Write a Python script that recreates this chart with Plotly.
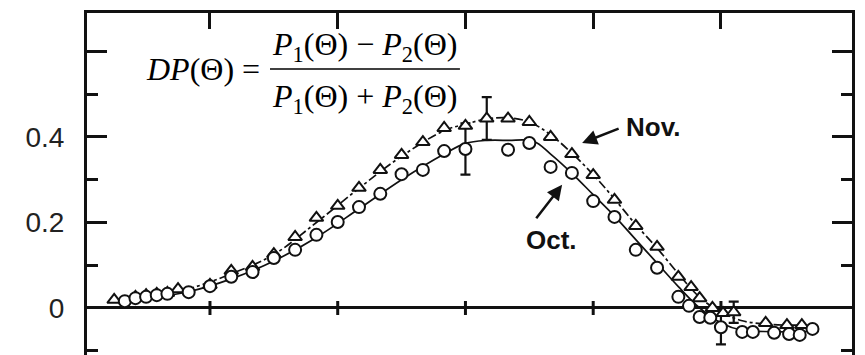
import plotly.graph_objects as go

# Scattering angle (deg) and degree of polarization, October series (circles)
oct_theta = [10, 12.5, 15, 17.5, 20, 25, 30, 35, 40, 45, 50, 55, 60, 65, 70, 75, 80, 85,
             90, 100, 105, 110, 115, 120, 125, 130, 135, 140, 142.5, 145, 147.5, 150,
             155, 157.5, 162.5, 166, 168.5, 171.5]
oct_dp = [0.016, 0.023, 0.026, 0.030, 0.033, 0.037, 0.051, 0.073, 0.084, 0.117, 0.136,
          0.171, 0.201, 0.236, 0.267, 0.313, 0.323, 0.367, 0.372, 0.370, 0.386, 0.330,
          0.316, 0.250, 0.213, 0.136, 0.094, 0.026, 0.005, -0.021, -0.023, -0.045,
          -0.056, -0.056, -0.058, -0.061, -0.063, -0.049]

# November series (triangles)
nov_theta = [7.5, 12.5, 15, 17.5, 20, 22.5, 30, 35, 40, 45, 50, 55, 60, 65, 70, 75, 80,
             85, 90, 95, 100, 105, 110, 115, 120, 125, 130, 135, 140, 143, 145, 148,
             150.5, 153, 160.5, 165.5, 169]
nov_dp = [0.019, 0.026, 0.030, 0.033, 0.035, 0.044, 0.054, 0.087, 0.096, 0.126, 0.166,
          0.211, 0.239, 0.281, 0.323, 0.358, 0.388, 0.421, 0.426, 0.443, 0.443, 0.435,
          0.400, 0.360, 0.311, 0.253, 0.192, 0.143, 0.073, 0.049, 0.023, 0.000,
          -0.012, -0.010, -0.035, -0.040, -0.040]

# Smoothed curves drawn through each series
oct_fit_theta = [7.5, 15, 25, 35, 45, 55, 65, 75, 85, 90, 95, 100, 106, 110, 115, 120,
                 125, 130, 135, 140, 145, 150, 155, 160, 165, 170]
oct_fit_dp = [0.015, 0.022, 0.038, 0.068, 0.110, 0.165, 0.232, 0.300, 0.360, 0.385,
              0.392, 0.392, 0.390, 0.360, 0.315, 0.265, 0.215, 0.160, 0.105, 0.050,
              0.000, -0.035, -0.052, -0.055, -0.056, -0.055]
nov_fit_theta = [7.5, 15, 25, 35, 45, 55, 65, 75, 85, 90, 95, 100, 105, 110, 115, 120,
                 125, 130, 135, 140, 145, 150, 155, 160, 165, 170]
nov_fit_dp = [0.018, 0.028, 0.045, 0.080, 0.125, 0.200, 0.280, 0.355, 0.415, 0.430,
              0.442, 0.445, 0.435, 0.405, 0.362, 0.312, 0.255, 0.195, 0.140, 0.080,
              0.025, -0.010, -0.030, -0.037, -0.040, -0.040]

# Points carrying error bars: angle and half-width
oct_err_theta = [90, 150]
oct_err = [0.06, 0.04]
nov_err_theta = [95, 153]
nov_err = [0.05, 0.025]

# Axis ticks
x_ticks = [30, 60, 90, 120, 150]
y_major = [0, 0.2, 0.4, 0.6]
y_major_text = ["0", "0.2", "0.4", ""]
y_minor = [-0.1, 0.1, 0.3, 0.5]

INK = "#111111"

fig = go.Figure()

# fitted curves
fig.add_trace(go.Scatter(x=oct_fit_theta, y=oct_fit_dp, mode="lines",
                         line=dict(color=INK, width=1.7, shape="spline"),
                         hoverinfo="skip", showlegend=False))
fig.add_trace(go.Scatter(x=nov_fit_theta, y=nov_fit_dp, mode="lines",
                         line=dict(color=INK, width=1.7, dash="dashdot", shape="spline"),
                         hoverinfo="skip", showlegend=False))

# small cross ticks on the zero line
fig.add_trace(go.Scatter(x=x_ticks, y=[0] * len(x_ticks), mode="markers",
                         marker=dict(symbol="line-ns", size=10,
                                     line=dict(color=INK, width=3)),
                         hoverinfo="skip", showlegend=False))

# error bars
oct_err_y = [oct_dp[oct_theta.index(t)] for t in oct_err_theta]
nov_err_y = [nov_dp[nov_theta.index(t)] for t in nov_err_theta]
fig.add_trace(go.Scatter(x=oct_err_theta, y=oct_err_y, mode="markers",
                         marker=dict(size=1, color="rgba(0,0,0,0)"),
                         error_y=dict(type="data", array=oct_err, color=INK,
                                      thickness=2.2, width=5),
                         hoverinfo="skip", showlegend=False))
fig.add_trace(go.Scatter(x=nov_err_theta, y=nov_err_y, mode="markers",
                         marker=dict(size=1, color="rgba(0,0,0,0)"),
                         error_y=dict(type="data", array=nov_err, color=INK,
                                      thickness=2.2, width=5),
                         hoverinfo="skip", showlegend=False))

# data markers
fig.add_trace(go.Scatter(x=nov_theta, y=nov_dp, mode="markers", name="Nov.",
                         marker=dict(symbol="triangle-up", size=12, color="white",
                                     line=dict(color=INK, width=2)),
                         showlegend=False))
fig.add_trace(go.Scatter(x=oct_theta, y=oct_dp, mode="markers", name="Oct.",
                         marker=dict(symbol="circle", size=12, color="white",
                                     line=dict(color=INK, width=2)),
                         showlegend=False))

serif = dict(family="Liberation Serif, Times New Roman, serif", size=32, color="black")
label_font = dict(family="Liberation Sans, Arial, sans-serif", size=26, color=INK)

annotations = [
    dict(x=42.2, y=0.559, xref="x", yref="y", text="<i>DP</i>(Θ) =",
         showarrow=False, xanchor="right", yanchor="middle", font=serif),
    dict(x=66.2, y=0.611, xref="x", yref="y",
         text="<i>P</i><sub>1</sub>(Θ) − <i>P</i><sub>2</sub>(Θ)",
         showarrow=False, xanchor="center", yanchor="middle", font=serif),
    dict(x=66.2, y=0.489, xref="x", yref="y",
         text="<i>P</i><sub>1</sub>(Θ) + <i>P</i><sub>2</sub>(Θ)",
         showarrow=False, xanchor="center", yanchor="middle", font=serif),
    dict(x=134.0, y=0.423, xref="x", yref="y", text="<b>Nov.</b>",
         showarrow=False, xanchor="center", yanchor="middle", font=label_font),
    dict(x=110.2, y=0.159, xref="x", yref="y", text="<b>Oct.</b>",
         showarrow=False, xanchor="center", yanchor="middle", font=label_font),
    dict(x=117.4, y=0.386, xref="x", yref="y", text="", showarrow=True,
         ax=38, ay=-15, arrowhead=2, arrowsize=1.2, arrowwidth=2.5,
         arrowcolor=INK, standoff=0),
    dict(x=112.7, y=0.288, xref="x", yref="y", text="", showarrow=True,
         ax=-27, ay=35, arrowhead=2, arrowsize=1.2, arrowwidth=2.5,
         arrowcolor=INK, standoff=0),
]

shapes = [
    dict(type="line", xref="x", yref="y", x0=44.1, x1=88.7, y0=0.559, y1=0.559,
         line=dict(color="black", width=1.6)),
]

fig.update_layout(
    width=865, height=355,
    margin=dict(l=87, r=13, t=13, b=0),
    paper_bgcolor="white", plot_bgcolor="white",
    annotations=annotations, shapes=shapes,
    xaxis=dict(range=[1.12, 180.78], side="top", showline=True, linewidth=3,
               linecolor=INK, mirror=False, ticks="inside", tickvals=x_ticks,
               ticklen=16, tickwidth=3, tickcolor=INK, showticklabels=False,
               showgrid=False, zeroline=False),
    yaxis=dict(range=[-0.110, 0.690], showline=True, linewidth=3, linecolor=INK,
               mirror="ticks", ticks="inside", tickvals=y_major,
               ticktext=y_major_text, ticklen=20, tickwidth=3, tickcolor=INK,
               minor=dict(tickvals=y_minor, ticks="inside", ticklen=11,
                          tickwidth=3, tickcolor=INK),
               ticklabelstandoff=14,
               tickfont=dict(family="Liberation Sans, Arial, sans-serif",
                             size=28, color="#222222"),
               showgrid=False, zeroline=True, zerolinecolor=INK, zerolinewidth=2.5),
)

fig.write_html("out.html")
